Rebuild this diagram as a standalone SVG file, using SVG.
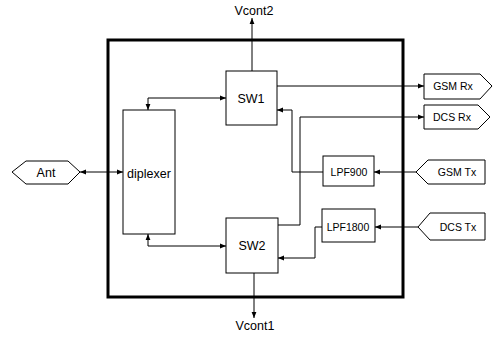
<svg xmlns="http://www.w3.org/2000/svg" width="493" height="341" viewBox="0 0 493 341">
<defs>
<marker id="ah" viewBox="0 0 10 10" refX="10" refY="5" markerWidth="6" markerHeight="6" orient="auto-start-reverse" markerUnits="userSpaceOnUse">
<path d="M0,1 L10,5 L0,9 z" fill="#000"/>
</marker>
<style>
.box{fill:#fff;stroke:#000;stroke-width:1}
.frame{fill:none;stroke:#000;stroke-width:3}
.ln{fill:none;stroke:#000;stroke-width:1}
text{font-family:"Liberation Sans",Arial,sans-serif;fill:#000;text-anchor:middle}
.t12{font-size:12.5px}
.t10{font-size:10.5px}
</style>
</defs>
<rect width="493" height="341" fill="#fff"/>
<rect class="frame" x="108" y="40" width="295" height="257"/>
<g id="connectors">
<path class="ln" d="M80,172 L123,172" marker-start="url(#ah)" marker-end="url(#ah)"/>
<path class="ln" d="M148,110 L148,98 L226,98" marker-start="url(#ah)" marker-end="url(#ah)"/>
<path class="ln" d="M148,234 L148,246 L226,246" marker-start="url(#ah)" marker-end="url(#ah)"/>
<path class="ln" d="M252,71 L252,18" marker-end="url(#ah)"/>
<path class="ln" d="M254,273 L254,318" marker-end="url(#ah)"/>
<path class="ln" d="M277,86 L424,86" marker-end="url(#ah)"/>
<path class="ln" d="M278,225 L300,225 L300,117 L424,117" marker-end="url(#ah)"/>
<path class="ln" d="M416,172 L374,172" marker-end="url(#ah)"/>
<path class="ln" d="M323,172 L292,172 L292,110 L277,110" marker-end="url(#ah)"/>
<path class="ln" d="M418,227 L375,227" marker-end="url(#ah)"/>
<path class="ln" d="M322,227 L315,227 L315,258 L278,258" marker-end="url(#ah)"/>
</g>
<g id="ant"><path class="box" d="M12,172 L26,161 L68,161 L80,172 L68,184 L26,184 Z"/><text class="t12" x="46" y="177">Ant</text></g>
<g id="diplexer"><rect class="box" x="123" y="110" width="52" height="124"/><text class="t12" x="149" y="178">diplexer</text></g>
<g id="sw1"><rect class="box" x="226" y="71" width="51" height="54"/><text class="t12" x="251" y="103">SW1</text></g>
<g id="sw2"><rect class="box" x="226" y="218" width="52" height="55"/><text class="t12" x="252" y="250">SW2</text></g>
<g id="vcont2"><text class="t12" x="254" y="15">Vcont2</text></g>
<g id="vcont1"><text class="t12" x="255" y="330">Vcont1</text></g>
<g id="lpf900"><rect class="box" x="323" y="156" width="51" height="30"/><text class="t10" x="349" y="176">LPF900</text></g>
<g id="lpf1800"><rect class="box" x="322" y="209" width="53" height="33"/><text class="t10" x="348" y="231">LPF1800</text></g>
<g id="gsmrx"><path class="box" d="M424,74 L480,74 L492,86 L480,99 L424,99 Z"/><text class="t10" x="453" y="90">GSM Rx</text></g>
<g id="dcsrx"><path class="box" d="M424,105 L478,105 L490,117 L478,129 L424,129 Z"/><text class="t10" x="452" y="121">DCS Rx</text></g>
<g id="gsmtx"><path class="box" d="M416,172 L428,160 L485,160 L485,184 L428,184 Z"/><text class="t10" x="457" y="176">GSM Tx</text></g>
<g id="dcstx"><path class="box" d="M418,227 L430,213 L485,213 L485,240 L430,240 Z"/><text class="t10" x="458" y="231">DCS Tx</text></g>
</svg>
